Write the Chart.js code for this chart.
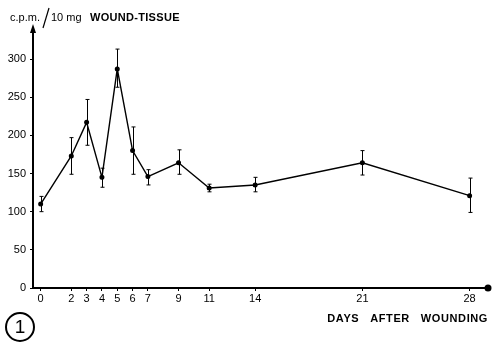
<!DOCTYPE html>
<html lang="en">
<head>
  <meta charset="UTF-8">
  <title>Wound tissue cpm</title>
  <script src="https://cdn.jsdelivr.net/npm/chart.js"></script>
  <style>
    html, body { margin: 0; padding: 0; background: #fff; }
    #wrap { width: 492px; height: 344px; position: relative; }
  </style>
</head>
<body>
  <div id="wrap"><canvas id="woundChart"></canvas></div>
  <script>
    // days after wounding and measured values (cpm per 10 mg tissue)
    var days = [0, 2, 3, 4, 5, 6, 7, 9, 11, 14, 21, 28];
    var cpm = [110, 173, 217, 145, 287, 180, 146, 164, 131, 135, 164, 121];
    var errTop = [120, 197, 247, 157, 313, 211, 155, 181, 136, 145, 180, 144];
    var errBottom = [100, 149, 187, 132, 263, 149, 135, 149, 126, 126, 148, 99];
    var yTicks = [0, 50, 100, 150, 200, 250, 300];
    var xTicks = days;

    var FONT = "'Liberation Sans', Arial, sans-serif";

    var points = days.map(function (d, i) { return { x: d, y: cpm[i] }; });

    // error bars, axis arrow / end dot and the extra labels
    var extras = {
      id: 'extras',
      afterDatasetsDraw: function (chart) {
        var ctx = chart.ctx;
        var xs = chart.scales.x, ys = chart.scales.y;
        var area = chart.chartArea;
        ctx.save();
        ctx.strokeStyle = '#000';
        ctx.fillStyle = '#000';
        ctx.lineWidth = 1;
        days.forEach(function (d, i) {
          var px = Math.round(xs.getPixelForValue(d)) + 0.5;
          var t = ys.getPixelForValue(errTop[i]);
          var b = ys.getPixelForValue(errBottom[i]);
          ctx.beginPath();
          ctx.moveTo(px, t); ctx.lineTo(px, b);
          ctx.moveTo(px - 2, t); ctx.lineTo(px + 2, t);
          ctx.moveTo(px - 2, b); ctx.lineTo(px + 2, b);
          ctx.stroke();
        });

        // arrow on y axis
        var ax = area.left;
        ctx.beginPath();
        ctx.moveTo(ax, area.top - 6);
        ctx.lineTo(ax - 3, area.top + 3);
        ctx.lineTo(ax + 3, area.top + 3);
        ctx.closePath();
        ctx.fill();
        // dot at end of x axis
        ctx.beginPath();
        ctx.arc(area.right, area.bottom, 3.5, 0, Math.PI * 2);
        ctx.fill();

        // y title
        ctx.textBaseline = 'alphabetic';
        ctx.textAlign = 'left';
        ctx.font = '11px ' + FONT;
        ctx.fillText('c.p.m.', 10, 21);
        ctx.beginPath();
        ctx.lineWidth = 1.2;
        ctx.moveTo(43, 28); ctx.lineTo(49, 8);
        ctx.stroke();
        ctx.fillText('10 mg', 51, 21);
        ctx.font = 'bold 11px ' + FONT;
        ctx.letterSpacing = '0.3px';
        ctx.fillText('WOUND-TISSUE', 90, 21);

        // x title
        ctx.textAlign = 'right';
        ctx.letterSpacing = '0.6px';
        ctx.fillText('DAYS   AFTER   WOUNDING', area.right, 322);
        ctx.letterSpacing = '0px';

        // figure number
        ctx.lineWidth = 2;
        ctx.beginPath();
        ctx.arc(20, 327, 14, 0, Math.PI * 2);
        ctx.stroke();
        ctx.textAlign = 'center';
        ctx.textBaseline = 'middle';
        ctx.font = '19px ' + FONT;
        ctx.fillText('1', 20, 328);
        ctx.restore();
      }
    };

    var ctx1 = document.getElementById('woundChart').getContext('2d');
    var woundChart = new Chart(ctx1, {
      type: 'scatter',
      data: {
        datasets: [{
          data: points,
          showLine: true,
          borderColor: '#000',
          backgroundColor: '#000',
          borderWidth: 1.4,
          pointRadius: 1.8,
          pointHoverRadius: 1.8
        }]
      },
      options: {
        responsive: true,
        maintainAspectRatio: false,
        animation: false,
        layout: { padding: { left: 0, top: 30, right: 4, bottom: 40 } },
        plugins: {
          legend: { display: false },
          tooltip: { enabled: false },
          title: { display: false }
        },
        scales: {
          x: {
            type: 'linear',
            min: -0.5,
            max: 29.2,
            afterBuildTicks: function (s) { s.ticks = xTicks.map(function (v) { return { value: v }; }); },
            afterFit: function (s) { s.height = 16; },
            border: { display: true, color: '#000', width: 2 },
            grid: { display: true, drawOnChartArea: false, drawTicks: true, tickLength: 3, color: '#000' },
            ticks: { color: '#000', padding: 1, maxRotation: 0, autoSkip: false, font: { family: FONT, size: 11 } }
          },
          y: {
            min: 0,
            max: 338,
            afterBuildTicks: function (s) { s.ticks = yTicks.map(function (v) { return { value: v }; }); },
            afterFit: function (s) { s.width = 33; },
            border: { display: true, color: '#000', width: 2 },
            grid: { display: true, drawOnChartArea: false, drawTicks: true, tickLength: 3, color: '#000' },
            ticks: { color: '#000', padding: 4, font: { family: FONT, size: 11 } }
          }
        }
      },
      plugins: [extras]
    });
  </script>
</body>
</html>
